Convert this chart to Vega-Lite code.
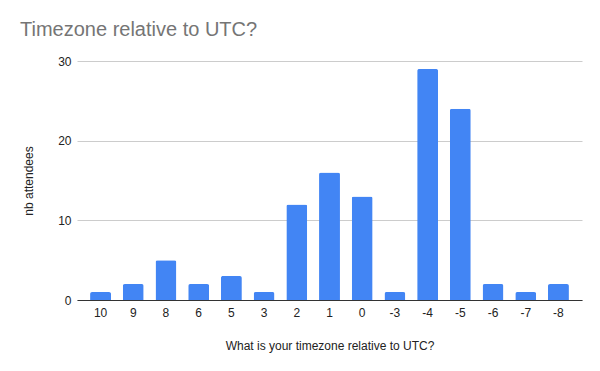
{
  "$schema": "https://vega.github.io/schema/vega-lite/v6.json",
  "width": 505,
  "height": 239,
  "autosize": {"type": "none"},
  "padding": {"left": 77, "top": 61, "right": 18, "bottom": 71},
  "background": "white",
  "title": {
    "text": "Timezone relative to UTC?",
    "anchor": "start",
    "frame": "group",
    "dx": -57,
    "offset": 15,
    "font": "Liberation Sans",
    "fontSize": 20,
    "fontWeight": "normal",
    "color": "#757575"
  },
  "data": {
    "values": [
      {"tz": "10", "n": 1},
      {"tz": "9", "n": 2},
      {"tz": "8", "n": 5},
      {"tz": "6", "n": 2},
      {"tz": "5", "n": 3},
      {"tz": "3", "n": 1},
      {"tz": "2", "n": 12},
      {"tz": "1", "n": 16},
      {"tz": "0", "n": 13},
      {"tz": "-3", "n": 1},
      {"tz": "-4", "n": 29},
      {"tz": "-5", "n": 24},
      {"tz": "-6", "n": 2},
      {"tz": "-7", "n": 1},
      {"tz": "-8", "n": 2}
    ]
  },
  "mark": {"type": "bar", "color": "#4285F4", "cornerRadiusTopLeft": 2, "cornerRadiusTopRight": 2},
  "encoding": {
    "x": {
      "field": "tz",
      "type": "nominal",
      "sort": null,
      "scale": {"paddingInner": 0.36, "paddingOuter": 0.4},
      "axis": {
        "title": "What is your timezone relative to UTC?",
        "labelAngle": 0,
        "labelFont": "Liberation Sans",
        "labelFontSize": 12,
        "labelColor": "#222222",
        "labelPadding": 7,
        "ticks": false,
        "domainColor": "#333333",
        "domainWidth": 1,
        "titleFont": "Liberation Sans",
        "titleFontSize": 12,
        "titleFontWeight": "normal",
        "titleColor": "#222222",
        "titlePadding": 22
      }
    },
    "y": {
      "field": "n",
      "type": "quantitative",
      "scale": {"domain": [0, 30]},
      "axis": {
        "title": "nb attendees",
        "values": [0, 10, 20, 30],
        "ticks": false,
        "domain": false,
        "gridColor": "#cccccc",
        "labelFont": "Liberation Sans",
        "labelFontSize": 12,
        "labelColor": "#222222",
        "labelPadding": 6,
        "titleFont": "Liberation Sans",
        "titleFontSize": 12,
        "titleFontWeight": "normal",
        "titleColor": "#222222",
        "titlePadding": 22
      }
    }
  },
  "config": {"view": {"stroke": null}}
}
